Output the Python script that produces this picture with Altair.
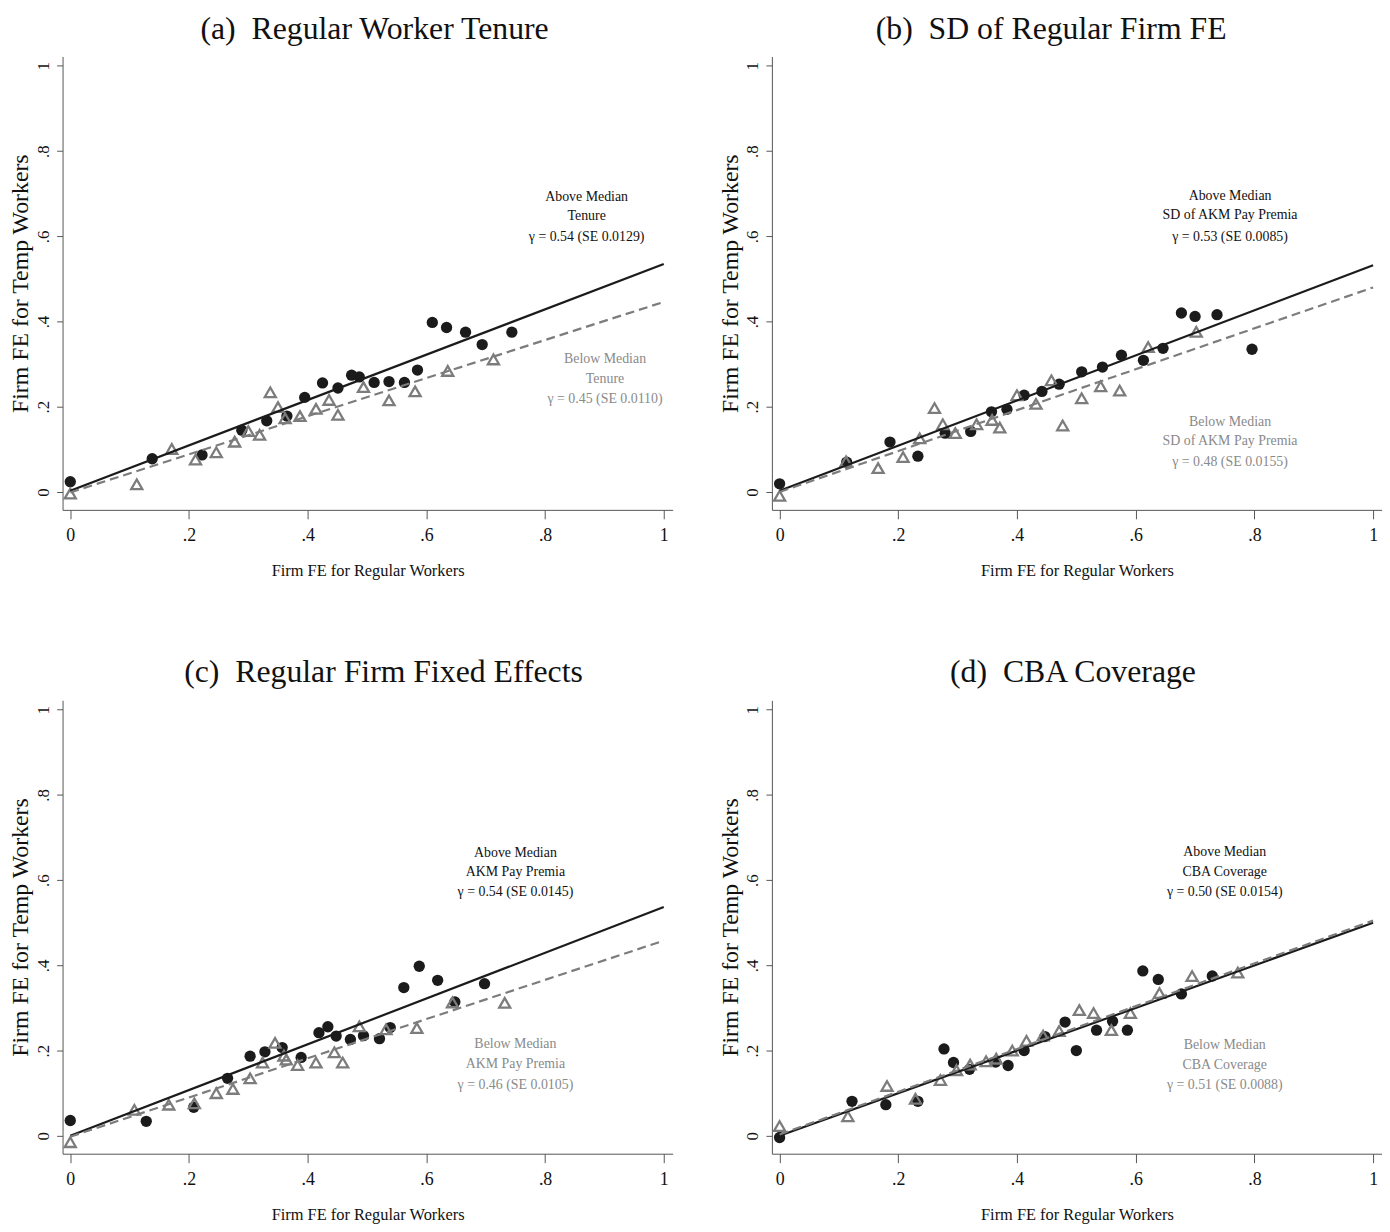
import altair as alt
import pandas as pd

SERIF = "Liberation Serif"
BLACK = "#1b1b1b"
GRAY = "#7c7c7c"
TXTGRAY = "#8a8a8a"

TICKS = [0, 0.2, 0.4, 0.6, 0.8, 1]

# ---------------- data ----------------
titles = ["(a)\u00a0\u00a0Regular Worker Tenure",
          "(b)\u00a0\u00a0SD of Regular Firm FE",
          "(c)\u00a0\u00a0Regular Firm Fixed Effects",
          "(d)\u00a0\u00a0CBA Coverage"]
title_shift = [7, -26, 16, -4]

# (a) Regular worker tenure
a_above_x = [0, 0.138, 0.222, 0.289, 0.331, 0.365, 0.395, 0.425, 0.451, 0.474,
             0.487, 0.512, 0.537, 0.563, 0.585, 0.610, 0.634, 0.666, 0.694, 0.744]
a_above_y = [0.024, 0.078, 0.087, 0.145, 0.167, 0.178, 0.222, 0.256, 0.244, 0.274,
             0.270, 0.257, 0.259, 0.257, 0.286, 0.398, 0.386, 0.375, 0.346, 0.375]
a_below_x = [0, 0.112, 0.171, 0.211, 0.246, 0.277, 0.300, 0.319, 0.337, 0.350,
             0.362, 0.387, 0.414, 0.436, 0.451, 0.494, 0.537, 0.581, 0.636, 0.713]
a_below_y = [-0.004, 0.018, 0.101, 0.076, 0.093, 0.118, 0.143, 0.134, 0.234, 0.199,
             0.173, 0.178, 0.195, 0.216, 0.181, 0.246, 0.215, 0.236, 0.284, 0.311]
a_fit_above = [0.003, 0.535]
a_fit_below = [-0.001, 0.446]
a_lab_above = ["Above Median", "Tenure", "\u03b3 = 0.54 (SE 0.0129)"]
a_lab_below = ["Below Median", "Tenure", "\u03b3 = 0.45 (SE 0.0110)"]
a_pos_above = [0.870, [0.6915, 0.647, 0.598]]
a_pos_below = [0.901, [0.312, 0.265, 0.219]]

# (b) SD of regular firm FE
b_above_x = [0, 0.113, 0.186, 0.233, 0.279, 0.322, 0.357, 0.383, 0.412, 0.442,
             0.471, 0.509, 0.544, 0.576, 0.613, 0.646, 0.677, 0.700, 0.737, 0.796]
b_above_y = [0.019, 0.070, 0.117, 0.084, 0.138, 0.142, 0.188, 0.194, 0.227, 0.236,
             0.253, 0.282, 0.293, 0.321, 0.309, 0.337, 0.420, 0.412, 0.416, 0.335]
b_below_x = [0, 0.112, 0.166, 0.208, 0.236, 0.261, 0.275, 0.296, 0.332, 0.358,
             0.371, 0.400, 0.432, 0.458, 0.477, 0.509, 0.541, 0.573, 0.621, 0.702]
b_below_y = [-0.009, 0.072, 0.056, 0.082, 0.126, 0.197, 0.159, 0.138, 0.159, 0.169,
             0.151, 0.227, 0.207, 0.262, 0.156, 0.220, 0.248, 0.238, 0.340, 0.376]
b_fit_above = [0.003, 0.532]
b_fit_below = [0.0, 0.480]
b_lab_above = ["Above Median", "SD of AKM Pay Premia", "\u03b3 = 0.53 (SE 0.0085)"]
b_lab_below = ["Below Median", "SD of AKM Pay Premia", "\u03b3 = 0.48 (SE 0.0155)"]
b_pos_above = [0.759, [0.694, 0.650, 0.598]]
b_pos_below = [0.759, [0.165, 0.119, 0.070]]

# (c) Regular firm fixed effects
c_above_x = [0, 0.128, 0.208, 0.265, 0.303, 0.328, 0.357, 0.389, 0.419, 0.434,
             0.448, 0.472, 0.494, 0.521, 0.539, 0.562, 0.588, 0.619, 0.648, 0.698]
c_above_y = [0.036, 0.034, 0.067, 0.135, 0.187, 0.197, 0.207, 0.184, 0.242, 0.256,
             0.234, 0.226, 0.235, 0.228, 0.254, 0.348, 0.398, 0.365, 0.314, 0.357]
c_below_x = [0, 0.108, 0.166, 0.209, 0.246, 0.274, 0.303, 0.324, 0.345, 0.360,
             0.364, 0.383, 0.414, 0.445, 0.459, 0.487, 0.532, 0.584, 0.644, 0.732]
c_below_y = [-0.015, 0.061, 0.073, 0.076, 0.100, 0.110, 0.135, 0.172, 0.218, 0.188,
             0.179, 0.166, 0.172, 0.196, 0.172, 0.257, 0.250, 0.253, 0.313, 0.312]
c_fit_above = [0.0, 0.537]
c_fit_below = [-0.002, 0.458]
c_lab_above = ["Above Median", "AKM Pay Premia", "\u03b3 = 0.54 (SE 0.0145)"]
c_lab_below = ["Below Median", "AKM Pay Premia", "\u03b3 = 0.46 (SE 0.0105)"]
c_pos_above = [0.750, [0.664, 0.619, 0.572]]
c_pos_below = [0.750, [0.215, 0.168, 0.119]]

# (d) CBA coverage
d_above_x = [0, 0.122, 0.179, 0.233, 0.277, 0.293, 0.320, 0.364, 0.385, 0.412,
             0.447, 0.481, 0.500, 0.534, 0.561, 0.586, 0.612, 0.638, 0.677, 0.729]
d_above_y = [-0.004, 0.081, 0.073, 0.081, 0.204, 0.172, 0.156, 0.173, 0.165, 0.200,
             0.233, 0.267, 0.200, 0.248, 0.269, 0.248, 0.387, 0.367, 0.333, 0.375]
d_below_x = [0, 0.115, 0.181, 0.229, 0.271, 0.298, 0.321, 0.348, 0.365, 0.392,
             0.416, 0.444, 0.471, 0.505, 0.529, 0.559, 0.591, 0.640, 0.695, 0.772]
d_below_y = [0.023, 0.046, 0.117, 0.087, 0.131, 0.154, 0.167, 0.175, 0.181, 0.200,
             0.223, 0.235, 0.246, 0.295, 0.288, 0.248, 0.288, 0.335, 0.375, 0.383]
d_fit_above = [0.0, 0.500]
d_fit_below = [0.003, 0.505]
d_lab_above = ["Above Median", "CBA Coverage", "\u03b3 = 0.50 (SE 0.0154)"]
d_lab_below = ["Below Median", "CBA Coverage", "\u03b3 = 0.51 (SE 0.0088)"]
d_pos_above = [0.750, [0.665, 0.619, 0.572]]
d_pos_below = [0.750, [0.212, 0.165, 0.119]]

FIT_X = [0, 1]

# ---------------- chart construction ----------------
XS = alt.Scale(domain=[-0.013, 1.015], nice=False, zero=False)
YS = alt.Scale(domain=[-0.042, 1.022], nice=False, zero=False)
LBL = "datum.value == 0 ? '0' : (datum.value == 1 ? '1' : '.' + format(datum.value * 10, '.0f'))"

W, H = 615, 457


def xenc():
    return alt.X("x:Q", scale=XS, axis=alt.Axis(
        values=TICKS, labelExpr=LBL, title="Firm FE for Regular Workers",
        titleFont=SERIF, titleFontSize=16.5, titleFontWeight="normal", titleColor="#111",
        labelFont=SERIF, labelFontSize=18, labelColor="#111",
        tickSize=9, labelPadding=8, titlePadding=18,
        domainColor="#555", tickColor="#555", grid=False, labelFlush=False))


def yenc():
    return alt.Y("y:Q", scale=YS, axis=alt.Axis(
        values=TICKS, labelExpr=LBL, title="Firm FE for Temp Workers",
        titleFont=SERIF, titleFontSize=24, titleFontWeight="normal", titleColor="#111",
        labelFont=SERIF, labelFontSize=17, labelColor="#111",
        labelAngle=270, labelAlign="center", labelBaseline="bottom",
        tickSize=6, labelPadding=4, titlePadding=2,
        domainColor="#555", tickColor="#555", grid=False, labelFlush=False))


def panel(title, shift, ax, ay, bx, by, fa, fb, la, lb, pa, pb):
    above = pd.DataFrame({"x": ax, "y": ay})
    below = pd.DataFrame({"x": bx, "y": by})
    fit_a = pd.DataFrame({"x": FIT_X, "y": fa})
    fit_b = pd.DataFrame({"x": FIT_X, "y": fb})
    txt_a = pd.DataFrame({"x": [pa[0]] * 3, "y": pa[1], "t": la})
    txt_b = pd.DataFrame({"x": [pb[0]] * 3, "y": pb[1], "t": lb})

    circ = alt.Chart(above).mark_point(
        shape="circle", filled=True, color=BLACK, size=130, opacity=1
    ).encode(x=xenc(), y=yenc())
    tri = alt.Chart(below).mark_point(
        shape="triangle-up", filled=False, color=GRAY, size=125, strokeWidth=2.3, opacity=1
    ).encode(x="x:Q", y="y:Q")
    la_ = alt.Chart(fit_a).mark_line(color=BLACK, strokeWidth=2.2).encode(x="x:Q", y="y:Q")
    lb_ = alt.Chart(fit_b).mark_line(color=GRAY, strokeWidth=2.2, strokeDash=[9, 5]).encode(x="x:Q", y="y:Q")
    ta = alt.Chart(txt_a).mark_text(font=SERIF, fontSize=14, color="#111", baseline="middle").encode(
        x="x:Q", y="y:Q", text="t:N")
    tb = alt.Chart(txt_b).mark_text(font=SERIF, fontSize=14, color=TXTGRAY, baseline="middle").encode(
        x="x:Q", y="y:Q", text="t:N")
    return alt.layer(circ, tri, la_, lb_, ta, tb).properties(
        width=W, height=H,
        title=alt.TitleParams(title, font=SERIF, fontSize=32, fontWeight="normal",
                              color="#111", offset=11, anchor="middle", dx=shift))


pa_ = panel(titles[0], title_shift[0], a_above_x, a_above_y, a_below_x, a_below_y,
            a_fit_above, a_fit_below, a_lab_above, a_lab_below, a_pos_above, a_pos_below)
pb_ = panel(titles[1], title_shift[1], b_above_x, b_above_y, b_below_x, b_below_y,
            b_fit_above, b_fit_below, b_lab_above, b_lab_below, b_pos_above, b_pos_below)
pc_ = panel(titles[2], title_shift[2], c_above_x, c_above_y, c_below_x, c_below_y,
            c_fit_above, c_fit_below, c_lab_above, c_lab_below, c_pos_above, c_pos_below)
pd_ = panel(titles[3], title_shift[3], d_above_x, d_above_y, d_below_x, d_below_y,
            d_fit_above, d_fit_below, d_lab_above, d_lab_below, d_pos_above, d_pos_below)

chart = alt.vconcat(
    alt.hconcat(pa_, pb_, spacing=46),
    alt.hconcat(pc_, pd_, spacing=46),
    spacing=78,
).properties(
    padding={"left": 1, "top": 0, "right": 0, "bottom": 0}, background="white"
).configure_view(stroke=None)

chart.save("out.html", embed_options={"renderer": "svg", "actions": False})
